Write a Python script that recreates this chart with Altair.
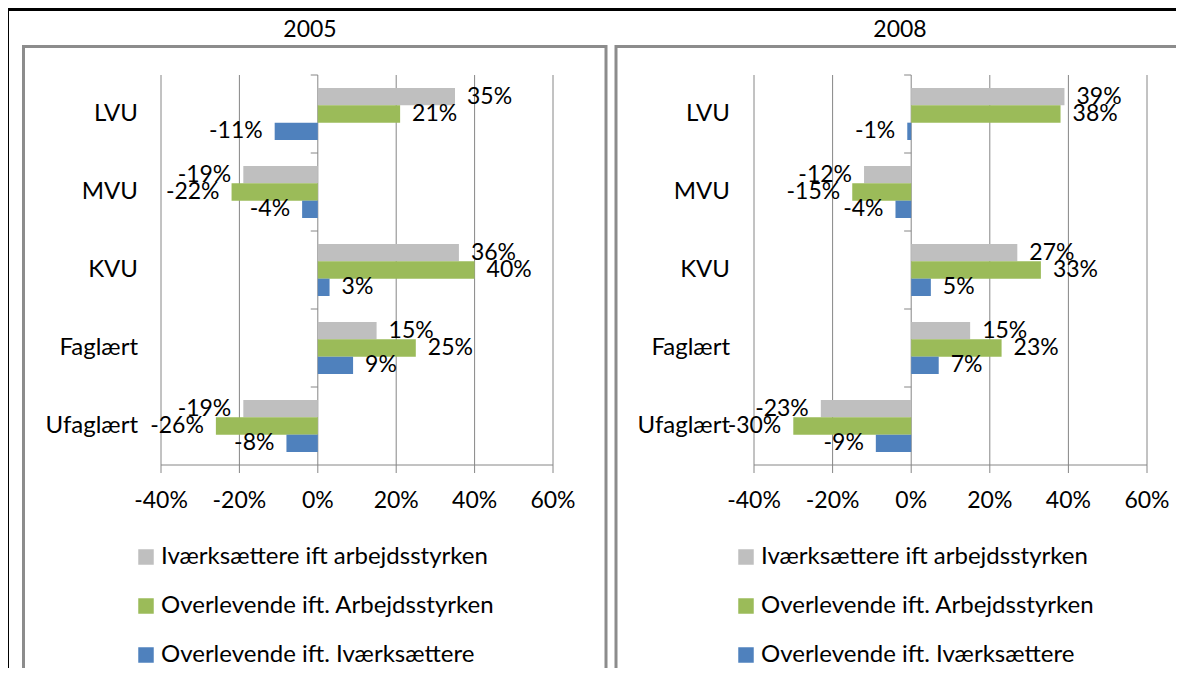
import altair as alt
import pandas as pd

# ---------------- data ----------------
categories = ["LVU", "MVU", "KVU", "Faglært", "Ufaglært"]
series = [
    "Iværksættere ift arbejdsstyrken",
    "Overlevende ift. Arbejdsstyrken",
    "Overlevende ift. Iværksættere",
]
years = ["2005", "2008"]

v2005_ivaerk = [35, -19, 36, 15, -19]
v2005_overl_arb = [21, -22, 40, 25, -26]
v2005_overl_iv = [-11, -4, 3, 9, -8]

v2008_ivaerk = [39, -12, 27, 15, -23]
v2008_overl_arb = [38, -15, 33, 23, -30]
v2008_overl_iv = [-1, -4, 5, 7, -9]

tick_values = [-40, -20, 0, 20, 40, 60]
tick_labels = ["-40%", "-20%", "0%", "20%", "40%", "60%"]
colors = ["#BFBFBF", "#9BBB59", "#4F81BD"]

values_by_year = {
    "2005": [v2005_ivaerk, v2005_overl_arb, v2005_overl_iv],
    "2008": [v2008_ivaerk, v2008_overl_arb, v2008_overl_iv],
}
rows = []
for yr in years:
    for s, vals in zip(series, values_by_year[yr]):
        for c, v in zip(categories, vals):
            rows.append({"year": yr, "cat": c, "series": s, "value": v, "label": f"{v}%"})
df = pd.DataFrame(rows)
ticks_df = pd.DataFrame({"t": tick_values, "lab": tick_labels})

# ---------------- layout ----------------
FONT = "Lato"
TXT = "#000000"
GRID = "#868686"
W, H = 1168, 660
Y0, Y1 = 67, 457

ys = alt.Scale(domain=categories, range=[Y0, Y1], paddingInner=1 / 3, paddingOuter=1 / 6)
yos = alt.Scale(domain=series, paddingInner=0, paddingOuter=0)


def panel(year, xr, legend_x, label_x):
    d = df[df.year == year]
    xs = alt.Scale(domain=[-40, 60], range=xr, nice=False)
    grid = alt.Chart(ticks_df).mark_rule(color=GRID, strokeWidth=1).encode(
        x=alt.X(
            "t:Q",
            scale=xs,
            axis=alt.Axis(domain=False, ticks=False, labels=False, grid=False, title=None),
        ),
        y=alt.value(Y0),
        y2=alt.value(Y1 + 8),
    )
    axis_line = alt.Chart(pd.DataFrame({"a": [-40], "b": [60]})).mark_rule(
        color=GRID, strokeWidth=1
    ).encode(
        x=alt.X("a:Q", scale=xs, axis=None),
        x2="b:Q",
        y=alt.value(Y1),
    )
    axis_labels = alt.Chart(ticks_df).mark_text(
        font=FONT, fontSize=23, color=TXT, baseline="middle", align="center"
    ).encode(
        x=alt.X("t:Q", scale=xs, axis=None),
        y=alt.value(493),
        text="lab:N",
    )
    cat_ticks = alt.Chart(pd.DataFrame({"cat": categories})).mark_rule(
        color=GRID, strokeWidth=1, yOffset=-13
    ).encode(
        y=alt.Y("cat:N", scale=ys, axis=None, bandPosition=0),
        x=alt.datum(0, scale=xs),
        x2=alt.datum(-1.8),
    )
    bars = alt.Chart(d).mark_bar().encode(
        x=alt.X("value:Q", scale=xs, axis=None, stack=None),
        y=alt.Y("cat:N", scale=ys, axis=None),
        yOffset=alt.YOffset("series:N", scale=yos),
        color=alt.Color(
            "series:N",
            scale=alt.Scale(domain=series, range=colors),
            legend=alt.Legend(
                orient="none",
                legendX=legend_x,
                legendY=537,
                title=None,
                direction="vertical",
                symbolType="square",
                symbolSize=240,
                symbolStrokeWidth=0,
                symbolOpacity=1,
                labelFont=FONT,
                labelFontSize=24,
                labelColor=TXT,
                labelOffset=3,
                labelLimit=500,
                rowPadding=25,
                padding=0,
            ),
        ),
    )
    pos = alt.Chart(d).transform_filter("datum.value >= 0").mark_text(
        align="left", baseline="middle", dx=12, font=FONT, fontSize=23, color=TXT
    ).encode(
        x=alt.X("value:Q", scale=xs, axis=None),
        y=alt.Y("cat:N", scale=ys, axis=None),
        yOffset=alt.YOffset("series:N", scale=yos),
        text="label:N",
    )
    neg = alt.Chart(d).transform_filter("datum.value < 0").mark_text(
        align="right", baseline="middle", dx=-12, font=FONT, fontSize=23, color=TXT
    ).encode(
        x=alt.X("value:Q", scale=xs, axis=None),
        y=alt.Y("cat:N", scale=ys, axis=None),
        yOffset=alt.YOffset("series:N", scale=yos),
        text="label:N",
    )
    cat_labels = alt.Chart(pd.DataFrame({"cat": categories})).mark_text(
        align="right", baseline="middle", font=FONT, fontSize=24, color=TXT
    ).encode(
        y=alt.Y("cat:N", scale=ys, axis=None),
        x=alt.value(label_x),
        text="cat:N",
    )
    return alt.layer(grid, axis_line, axis_labels, cat_ticks, bars, pos, neg, cat_labels)


p1 = panel("2005", [153, 545], 126, 130)
p2 = panel("2008", [746, 1139], 726, 722)

one = pd.DataFrame({"k": [0]})
frame1 = alt.Chart(one).mark_rect(fill="#ffffff", fillOpacity=0, stroke="#8C8C8C", strokeWidth=3).encode(
    x=alt.value(15.5), x2=alt.value(598), y=alt.value(38.5), y2=alt.value(H + 20)
)
frame2 = alt.Chart(one).mark_rect(fill="#ffffff", fillOpacity=0, stroke="#8C8C8C", strokeWidth=3).encode(
    x=alt.value(608), x2=alt.value(W + 30), y=alt.value(38.5), y2=alt.value(H + 20)
)
black_top = alt.Chart(one).mark_rule(color="#000000", strokeWidth=3).encode(
    x=alt.value(-2), x2=alt.value(W + 10), y=alt.value(1.5)
)
black_left = alt.Chart(one).mark_rule(color="#000000", strokeWidth=3).encode(
    x=alt.value(-0.5), y=alt.value(0), y2=alt.value(H + 10)
)
titles = alt.Chart(pd.DataFrame({"year": years, "px": [302, 892]})).mark_text(
    font=FONT, fontSize=23, color=TXT, baseline="middle", align="center"
).encode(x=alt.X("px:Q", scale=None), y=alt.value(22), text="year:N")

chart = (
    alt.layer(frame1, frame2, black_top, black_left, titles, p1, p2)
    .resolve_scale(x="independent", color="independent")
    .properties(width=W, height=H, padding=0, autosize=alt.AutoSizeParams(type="none"))
    .configure_view(strokeWidth=0)
)

chart.save("out.html", embed_options={"renderer": "svg", "actions": False})
